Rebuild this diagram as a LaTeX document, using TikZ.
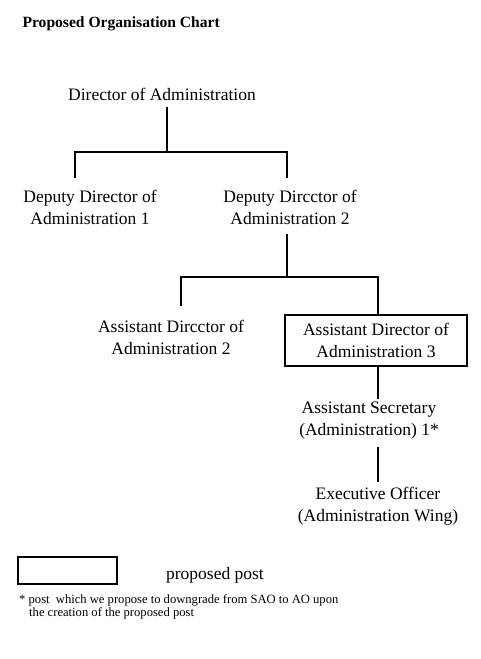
\documentclass[tikz,border=0pt]{standalone}
\usepackage{fontspec}
\setmainfont{Liberation Serif}
\usetikzlibrary{positioning}
\tikzset{
  post/.style={align=center, font=\fontsize{17.5}{22}\selectfont, inner sep=0pt},
  newpost/.style={post, draw, line width=1.6pt, minimum width=182pt, minimum height=51pt},
  link/.style={line width=1.6pt},
}
\begin{document}
\begin{tikzpicture}[x=1pt, y=-1pt]
	\useasboundingbox (0,0) rectangle (481,659);
	\node[anchor=west, font=\bfseries\fontsize{15.6}{18}\selectfont] (title) at (19,24) {Proposed Organisation Chart};
	% posts
	\node[post] (dir) at (162,94) {Director of Administration};
	\node[post] (dd1) at (90,207) {Deputy Director of\\Administration 1};
	\node[post] (dd2) at (290,207) {Deputy Dircctor of\\Administration 2};
	\node[post] (ad2) at (171,337) {Assistant Dircctor of\\Administration 2};
	\node[newpost] (ad3) at (376,340.5) {Assistant Director of\\Administration 3};
	\node[post] (as1) at (369,421) {Assistant Secretary\\(Administration) 1*};
	\node[post] (eo) at (378,506) {Executive Officer\\(Administration Wing)};
	% junctions
	\coordinate (b1) at (167,152);
	\coordinate (l1) at (75,152);
	\coordinate (r1) at (287,152);
	\coordinate (b2) at (287,277);
	\coordinate (l2) at (181,277);
	\coordinate (r2) at (378,277);
	% lines
	\draw[link] ([yshift=-7pt]dir.south -| b1) -- (b1);
	\draw[link] ([yshift=12pt]l1 |- dd1.north) -- (l1) -- (r1) -- ([yshift=12pt]r1 |- dd2.north);
	\draw[link] ([yshift=-10pt]b2 |- dd2.south) -- (b2);
	\draw[link] ([yshift=14pt]l2 |- ad2.north) -- (l2) -- (r2) -- (r2 |- ad3.north);
	\draw[link] (ad3.south -| r2) -- ([yshift=3pt]r2 |- as1.north);
	\draw[link] ([yshift=-7pt]r2 |- as1.south) -- ([yshift=5pt]r2 |- eo.north);
	% key
	\node[draw, line width=1.6pt, minimum width=99pt, minimum height=27pt] (key) at (67.5,570.5) {};
	\node[post] (keytext) at (215,575) {proposed post};
	\node[anchor=north west, align=left, inner sep=0pt, font=\fontsize{12.6}{13.5}\selectfont] (note) at (19,594) {* post\ \ which we propose to downgrade from SAO to AO upon\\\hspace*{10pt}the creation of the proposed post};
\end{tikzpicture}
\end{document}
